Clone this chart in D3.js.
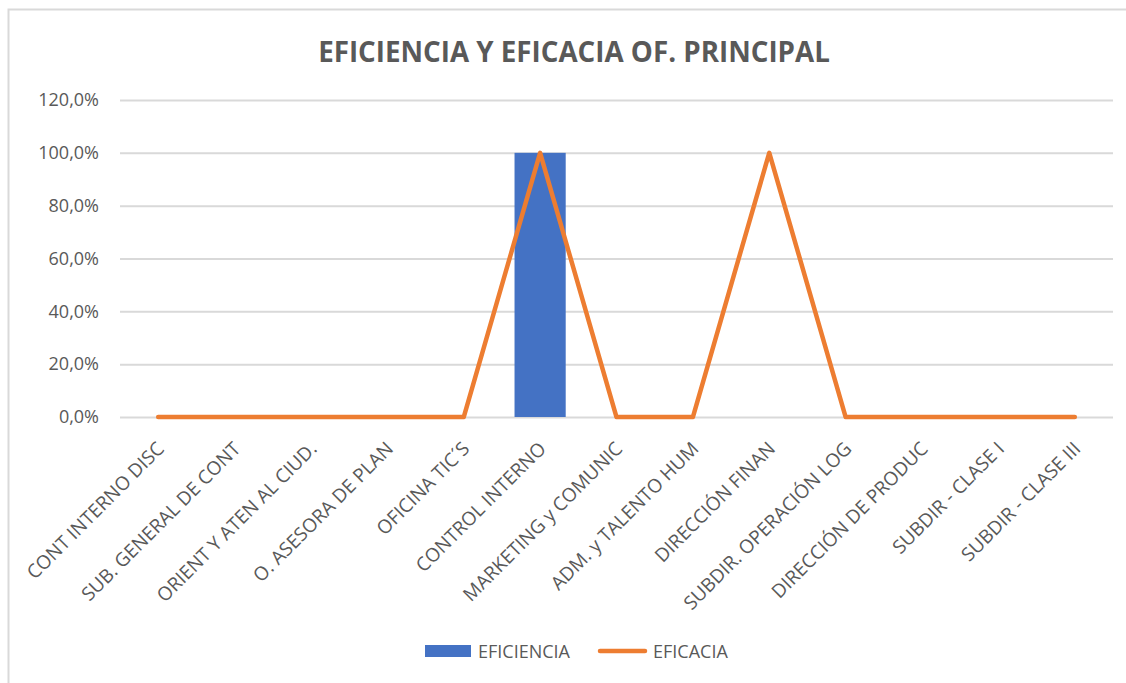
<!DOCTYPE html>
<html>
<head>
<meta charset="utf-8">
<script src="https://cdn.jsdelivr.net/npm/d3@7"></script>
<style>
  body { margin: 0; background: #fff; }
  text { font-family: "Open Sans", sans-serif; fill: #595959; }
</style>
</head>
<body>
<script>
const WIDTH = 1126;
const HEIGHT = 683;

const categories = [
  "CONT INTERNO DISC", "SUB. GENERAL DE CONT", "ORIENT Y ATEN AL CIUD.",
  "O. ASESORA DE PLAN", "OFICINA TIC´S", "CONTROL INTERNO",
  "MARKETING y COMUNIC", "ADM. y TALENTO HUM", "DIRECCIÓN FINAN",
  "SUBDIR. OPERACIÓN LOG", "DIRECCIÓN DE PRODUC", "SUBDIR - CLASE I",
  "SUBDIR - CLASE III"
];
const eficiencia = [0, 0, 0, 0, 0, 1, 0, 0, 0, 0, 0, 0, 0];
const eficacia   = [0, 0, 0, 0, 0, 1, 0, 0, 1, 0, 0, 0, 0];
const yTicks = [0, 0.2, 0.4, 0.6, 0.8, 1.0, 1.2];

const BLUE = "#4472C4";
const ORANGE = "#ED7D31";
const GRID = "#D9D9D9";

const plot = { left: 120, right: 1113, top: 100, bottom: 417 };

let svg = d3.select("body")
            .append("svg")
            .attr("width", WIDTH)
            .attr("height", HEIGHT);

// chart frame (right/bottom edges fall outside the window)
svg.append("rect")
   .attr("x", 8.5).attr("y", 9.5)
   .attr("width", 1140).attr("height", 690)
   .attr("fill", "none")
   .attr("stroke", GRID)
   .attr("stroke-width", 2);

const x = d3.scaleBand()
            .domain(categories)
            .range([plot.left, plot.right])
            .paddingInner(0.33)
            .paddingOuter(0.165);

const xc = d3.scaleBand()
             .domain(categories)
             .range([plot.left, plot.right]);

const y = d3.scaleLinear()
            .domain([0, 1.2])
            .range([plot.bottom, plot.top]);

const fmt = v => d3.format(".1f")(v * 100).replace(".", ",") + "%";

// gridlines + y labels
const yAxis = d3.axisLeft(y)
                .tickValues(yTicks)
                .tickSize(-(plot.right - plot.left))
                .tickPadding(21)
                .tickFormat(fmt);

const ga = svg.append("g")
              .attr("transform", `translate(${plot.left},0)`)
              .call(yAxis);
ga.select(".domain").remove();
ga.selectAll("line").attr("stroke", GRID).attr("stroke-width", 2);
ga.selectAll("text")
  .attr("font-size", 18)
  .attr("fill", "#595959")
  .style("font-family", "'Open Sans', sans-serif");

// bars
svg.selectAll("rect.bar")
   .data(categories)
   .enter().append("rect")
   .attr("class", "bar")
   .attr("x", d => x(d))
   .attr("width", x.bandwidth())
   .attr("y", (d, i) => y(eficiencia[i]))
   .attr("height", (d, i) => y(0) - y(eficiencia[i]))
   .attr("fill", BLUE);

// line
const line = d3.line()
               .x((d, i) => xc(categories[i]) + xc.bandwidth() / 2)
               .y(d => y(d));

svg.append("path")
   .datum(eficacia)
   .attr("d", line)
   .attr("fill", "none")
   .attr("stroke", ORANGE)
   .attr("stroke-width", 4.5)
   .attr("stroke-linejoin", "round")
   .attr("stroke-linecap", "round");

// x labels
svg.selectAll("text.xlab")
   .data(categories)
   .enter().append("text")
   .attr("class", "xlab")
   .attr("font-size", 19)
   .attr("text-anchor", "end")
   .attr("transform", d => `translate(${xc(d) + xc.bandwidth() / 2 + 7},${y(0) + 33}) rotate(-45)`)
   .text(d => d);

// title
const title = svg.append("text")
                 .attr("x", 574)
                 .attr("y", 62)
                 .attr("text-anchor", "middle")
                 .attr("font-weight", "bold")
                 .attr("font-size", 28)
                 .text("EFICIENCIA Y EFICACIA OF. PRINCIPAL");
const tw = title.node().getComputedTextLength();
title.attr("font-size", 28 * 512 / tw);

// legend
const lg = svg.append("g");
lg.append("rect")
  .attr("x", 425).attr("y", 645)
  .attr("width", 46).attr("height", 12)
  .attr("fill", BLUE);
lg.append("text")
  .attr("x", 478).attr("y", 658)
  .attr("font-size", 18)
  .text("EFICIENCIA");
lg.append("line")
  .attr("x1", 600).attr("x2", 645)
  .attr("y1", 651).attr("y2", 651)
  .attr("stroke", ORANGE)
  .attr("stroke-width", 4.5)
  .attr("stroke-linecap", "round");
lg.append("text")
  .attr("x", 653).attr("y", 658)
  .attr("font-size", 18)
  .text("EFICACIA");
</script>
</body>
</html>
